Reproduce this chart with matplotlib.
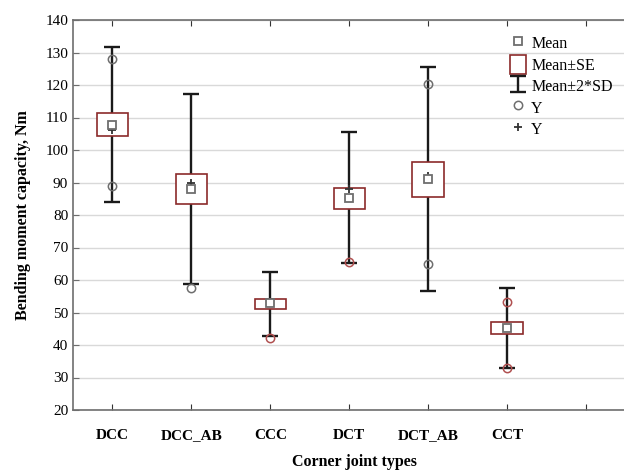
import matplotlib
matplotlib.use('Agg')
import matplotlib.pyplot as plt
from matplotlib.patches import Rectangle
from matplotlib.lines import Line2D

# data
joints = ['DCC', 'DCC_AB', 'CCC', 'DCT', 'DCT_AB', 'CCT']
mean = [107.8, 88.0, 52.8, 85.1, 91.1, 45.1]
se_low = [104.3, 83.4, 51.1, 81.8, 85.6, 43.4]
se_high = [111.5, 92.6, 54.2, 88.2, 96.4, 47.0]
sd2_low = [84.1, 58.7, 42.9, 65.3, 56.6, 33.0]
sd2_high = [131.8, 117.2, 62.4, 105.6, 125.4, 57.4]
y_circ_hi = [127.9, None, None, None, 120.2, 53.3]
y_circ_lo = [88.9, 57.4, 42.3, 65.5, 64.8, 33.0]
y_plus = [106.2, 89.8, 52.9, 88.0, 92.0, 45.3]

# styling
red = '#8b2a2a'
grey = '#6e6e6e'
circ_hi_col = [grey, grey, grey, grey, grey, '#b05050']
circ_lo_col = [grey, grey, '#b05050', '#b05050', grey, '#b05050']

plt.rcParams['font.family'] = ['Liberation Serif', 'DejaVu Serif']

fig = plt.figure(figsize=(6.24, 4.72), dpi=100)
ax = fig.add_axes([73/624, 1 - 410/472, 1 - 73/624 + 0.02, 390/472])

xs = list(range(1, len(joints) + 1))
box_w = 0.4

eb = ax.errorbar(xs, mean,
                 yerr=[[m - l for m, l in zip(mean, sd2_low)],
                       [h - m for m, h in zip(mean, sd2_high)]],
                 fmt='none', ecolor='#1a1a1a', elinewidth=1.7, capsize=5.5,
                 capthick=1.7, zorder=2)

for x, lo, hi in zip(xs, se_low, se_high):
    ax.add_patch(Rectangle((x - box_w/2, lo), box_w, hi - lo, facecolor='white',
                           edgecolor=red, linewidth=1.2, zorder=3))

for x, v, c in zip(xs, y_circ_hi, circ_hi_col):
    if v is not None:
        ax.plot(x, v, 'o', mfc='none', mec=c, ms=6, mew=1.1, zorder=4)
for x, v, c in zip(xs, y_circ_lo, circ_lo_col):
    if v is not None:
        ax.plot(x, v, 'o', mfc='none', mec=c, ms=6, mew=1.1, zorder=4)

ax.plot(xs, y_plus, '+', color='#333333', ms=6, mew=1.3, ls='none', zorder=5)
ax.plot(xs, mean, 's', mfc='white', mec=grey, ms=6, mew=1.3, ls='none', zorder=6)

ax.set_xlim(0.5, 0.5 + 571/80)
ax.set_ylim(20, 140)
ax.set_yticks(range(20, 141, 10))
ax.set_xticks(xs + [7])
ax.set_xticklabels(joints + [''], fontweight='bold', fontsize=11)
ax.tick_params(axis='y', labelsize=11, direction='in', length=4, color=grey)
ax.tick_params(axis='x', direction='in', length=4, color='#333333', top=True, pad=14)
ax.grid(axis='y', color='#d9d9d9', linewidth=1)
ax.set_axisbelow(True)
for s in ['left', 'bottom', 'top']:
    ax.spines[s].set_color(grey)
    ax.spines[s].set_linewidth(1.2)
ax.spines['right'].set_visible(False)

ax.set_ylabel('Bending moment capacity, Nm', fontweight='bold', fontsize=11.5, labelpad=10)
ax.set_xlabel('Corner joint types', fontweight='bold', fontsize=11.5, labelpad=8)

handles = [
    Line2D([], [], marker='s', ls='none', mfc='white', mec=grey, ms=5.5, mew=1.3),
    Rectangle((0, 0), 1, 1, facecolor='white', edgecolor=red, linewidth=1.2),
    eb,
    Line2D([], [], marker='o', ls='none', mfc='none', mec=grey, ms=6, mew=1.1),
    Line2D([], [], marker='+', ls='none', color='#333333', ms=6, mew=1.3),
]
labels = ['Mean', 'Mean±SE', 'Mean±2*SD', 'Y', 'Y']
ax.legend(handles, labels, loc='upper left', bbox_to_anchor=(504/624, 1 - 27/472),
          bbox_transform=fig.transFigure, frameon=False, fontsize=11.5,
          handlelength=1.0, handleheight=1.5, labelspacing=0.12,
          handletextpad=0.3, borderaxespad=0)

fig.savefig('out.png', dpi=100)
